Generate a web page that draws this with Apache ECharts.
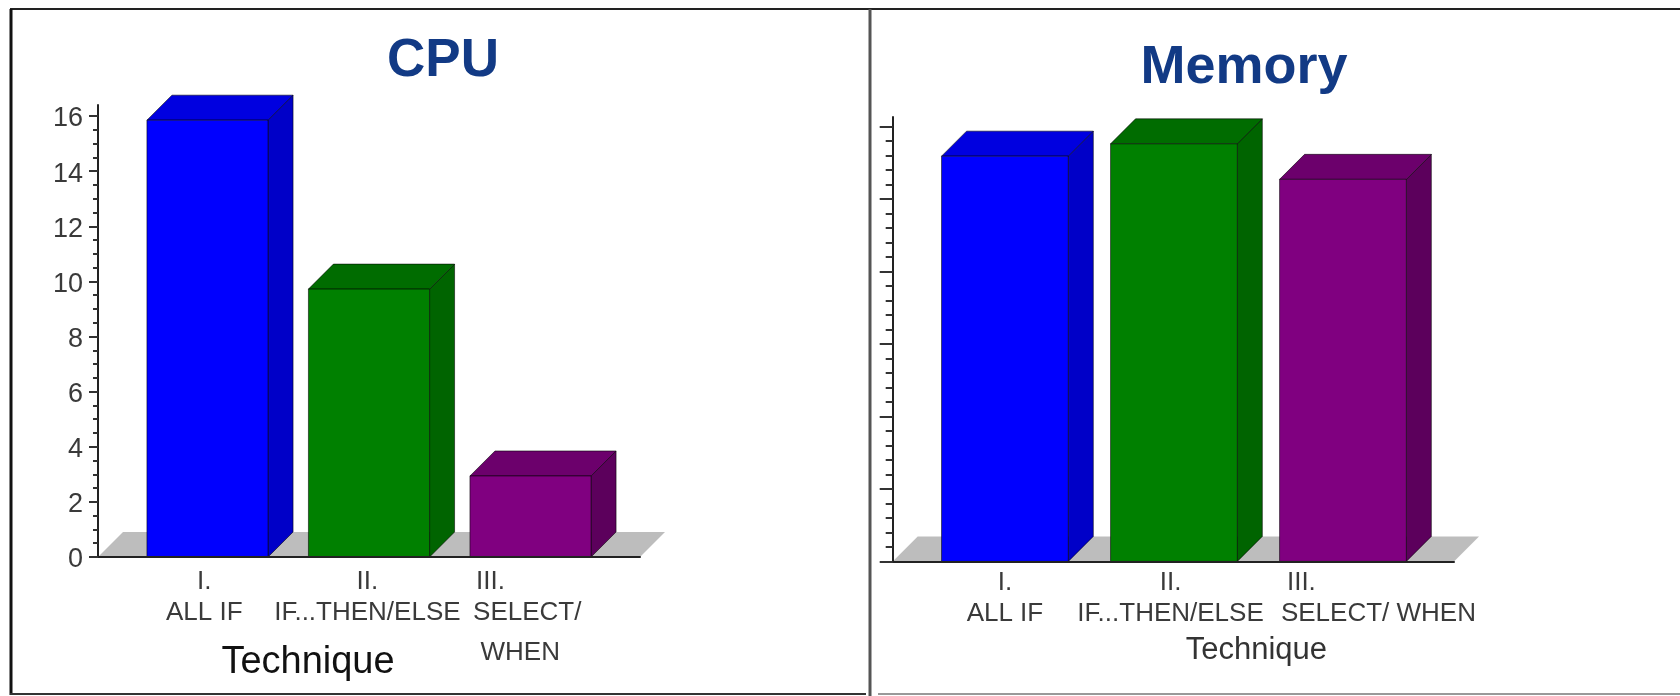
<!DOCTYPE html>
<html><head><meta charset="utf-8">
<style>html,body{margin:0;padding:0;background:#fff}#c{width:1680px;height:696px}</style>
<script src="https://cdn.jsdelivr.net/npm/echarts@6/dist/echarts.min.js"></script></head>
<body><div id="c"></div>
<script>
const cpuValues = [15.85, 9.72, 2.94];
const memoryValues = [55.9, 57.6, 52.7];
const barIndex = [0, 1, 2];
const cpuMajorTicks = [0,2,4,6,8,10,12,14,16];
const memoryMajorTicks = [0,10,20,30,40,50,60];
const cpuLabelAt = [-0.02, 0.99, 1.98];
const memoryLabelAt = [0, 0.98, 2.21];
const cpuCategories = ['{c|I.}\n{c|ALL IF}', '{c|II.}\n{c|IF...THEN/ELSE}', '{l|III.}\n{c|SELECT/}\n{w|WHEN}'];
const memoryCategories = ['{c|I.}\n{c|ALL IF}', '{c|II.}\n{c|IF...THEN/ELSE}', '{l|III.}\n{c|SELECT/ WHEN}'];
const front = ['#0000ff', '#008000', '#800080'];
const side  = ['#0000c8', '#006400', '#5c005c'];
const top_  = ['#0000e0', '#006c00', '#6c006c'];
const DEPTH = 25;
const FONT = '"Liberation Sans", Arial, sans-serif';

function barItem(params, api) {
  const i = api.value(0), v = api.value(1);
  const w = api.size([1, 0])[0] * 0.75;
  const c = api.coord([i, 0]);
  const t = api.coord([i, v]);
  const x0 = c[0] - w / 2, x1 = c[0] + w / 2, y0 = c[1], y1 = t[1];
  const stroke = {stroke: 'rgba(0,0,0,0.55)', lineWidth: 1};
  return {type: 'group', children: [
    {type:'polygon', shape:{points:[[x1,y0],[x1+DEPTH,y0-DEPTH],[x1+DEPTH,y1-DEPTH],[x1,y1]]}, style:{fill:side[i], ...stroke}},
    {type:'polygon', shape:{points:[[x0,y1],[x0+DEPTH,y1-DEPTH],[x1+DEPTH,y1-DEPTH],[x1,y1]]}, style:{fill:top_[i], ...stroke}},
    {type:'rect', shape:{x:x0,y:y1,width:w,height:y0-y1}, style:{fill:front[i], ...stroke}}
  ]};
}
function floorItem(params, api) {
  const a = api.coord([api.value(0), 0]), b = api.coord([api.value(1), 0]);
  return {type:'polygon', shape:{points:[[a[0],a[1]],[a[0]+DEPTH,a[1]-DEPTH],[b[0]+DEPTH,b[1]-DEPTH],[b[0],b[1]]]}, style:{fill:'#bdbdbd'}};
}
function minors(majors, n) {
  const out = [];
  for (let k = 0; k < majors.length - 1; k++) for (let j = 1; j < n; j++) out.push(majors[k] + (majors[k+1]-majors[k]) * j / n);
  return out;
}
function richOf(indent) {
  return {
    c:{fontFamily:FONT,fontSize:26,color:'#3a3a3a',lineHeight:31,align:'center'},
    l:{fontFamily:FONT,fontSize:26,color:'#3a3a3a',lineHeight:31,align:'left',padding:[0,0,0,indent]},
    w:{fontFamily:FONT,fontSize:26,color:'#3a3a3a',lineHeight:50,align:'center',padding:[0,14,0,0]}
  };
}
function xAxisOf(grid, min, max, labelAt, cats, nameText, nameStyle, gap, margin, indent) {
  return {type:'value', gridIndex:grid, min, max, z:5, splitLine:{show:false}, axisTick:{show:false},
    axisLine:{onZero:false, lineStyle:{color:'#222',width:2}},
    axisLabel:{customValues:labelAt, margin, hideOverlap:false, formatter:(v)=>cats[labelAt.indexOf(v)], rich:richOf(indent)},
    name:nameText, nameLocation:'middle', nameGap:gap, nameMoveOverlap:false, nameTextStyle:nameStyle};
}
function yAxesOf(grid, max, majors, minorN, showLabels) {
  const base = {type:'value', gridIndex:grid, min:0, max, position:'left', z:5, splitLine:{show:false}};
  return [
    {...base, axisLine:{show:true,onZero:false,lineStyle:{color:'#222',width:2}},
      axisTick:{show:true,length:showLabels?9:13,customValues:majors,lineStyle:{color:'#333',width:2}},
      axisLabel:{show:showLabels,customValues:majors,margin:15,verticalAlign:'top',lineHeight:6,fontFamily:FONT,fontSize:27,color:'#3a3a3a'}},
    {...base, axisLine:{show:false,onZero:false}, axisLabel:{show:false},
      axisTick:{show:true,length:showLabels?5:7,customValues:minors(majors,minorN),lineStyle:{color:'#333',width:2}}}
  ];
}
const cpuMin=-0.678, cpuMax=2.678, memMin=-0.664, memMax=2.657;
const chart = echarts.init(document.getElementById('c'), null, {renderer:'canvas'});
chart.setOption({
  backgroundColor:'#fff', animation:false,
  title:[
    {text:'CPU', left:438, top:56, textAlign:'center', textVerticalAlign:'middle', textStyle:{fontFamily:FONT,fontWeight:'bold',fontSize:53,color:'#123a85'}},
    {text:'Memory', left:1239, top:63, textAlign:'center', textVerticalAlign:'middle', textStyle:{fontFamily:FONT,fontWeight:'bold',fontSize:54,color:'#123a85'}}
  ],
  grid:[
    {left:98, top:105, width:542, height:452, outerBoundsMode:'none'},
    {left:892.7, top:117, width:561.3, height:444.4, outerBoundsMode:'none'}
  ],
  xAxis:[
    xAxisOf(0,cpuMin,cpuMax,cpuLabelAt,cpuCategories,'Technique',{fontFamily:FONT,fontSize:38,color:'#111',padding:[0,122,0,0]},87,9,3),
    xAxisOf(1,memMin,memMax,memoryLabelAt,memoryCategories,'Technique',{fontFamily:FONT,fontSize:31,color:'#333',padding:[0,0,0,166]},74,6,6)
  ],
  yAxis:[
    ...yAxesOf(0,16.4,cpuMajorTicks,4,true),
    ...yAxesOf(1,61.3,memoryMajorTicks,5,false)
  ],
  series:[
    {type:'custom',xAxisIndex:0,yAxisIndex:0,z:1,clip:false,renderItem:floorItem,data:[[cpuMin,cpuMax]],encode:{x:[0,1]},silent:true},
    {type:'custom',name:'CPU',xAxisIndex:0,yAxisIndex:0,z:2,clip:false,renderItem:barItem,data:barIndex.map(i=>[i,cpuValues[i]]),encode:{x:0,y:1}},
    {type:'custom',xAxisIndex:1,yAxisIndex:2,z:1,clip:false,renderItem:floorItem,data:[[memMin,memMax]],encode:{x:[0,1]},silent:true},
    {type:'custom',name:'Memory',xAxisIndex:1,yAxisIndex:2,z:2,clip:false,renderItem:barItem,data:barIndex.map(i=>[i,memoryValues[i]]),encode:{x:0,y:1}}
  ],
  graphic:[
    {type:'line',shape:{x1:10,y1:9,x2:1680,y2:9},style:{stroke:'#222',lineWidth:2}},
    {type:'line',shape:{x1:11,y1:9,x2:11,y2:695},style:{stroke:'#111',lineWidth:3}},
    {type:'line',shape:{x1:870,y1:9,x2:870,y2:696},style:{stroke:'#555',lineWidth:3}},
    {type:'line',shape:{x1:10,y1:694,x2:866,y2:694},style:{stroke:'#333',lineWidth:2}},
    {type:'line',shape:{x1:878,y1:694,x2:1680,y2:694},style:{stroke:'#999',lineWidth:2}}
  ]
});
</script></body></html>
